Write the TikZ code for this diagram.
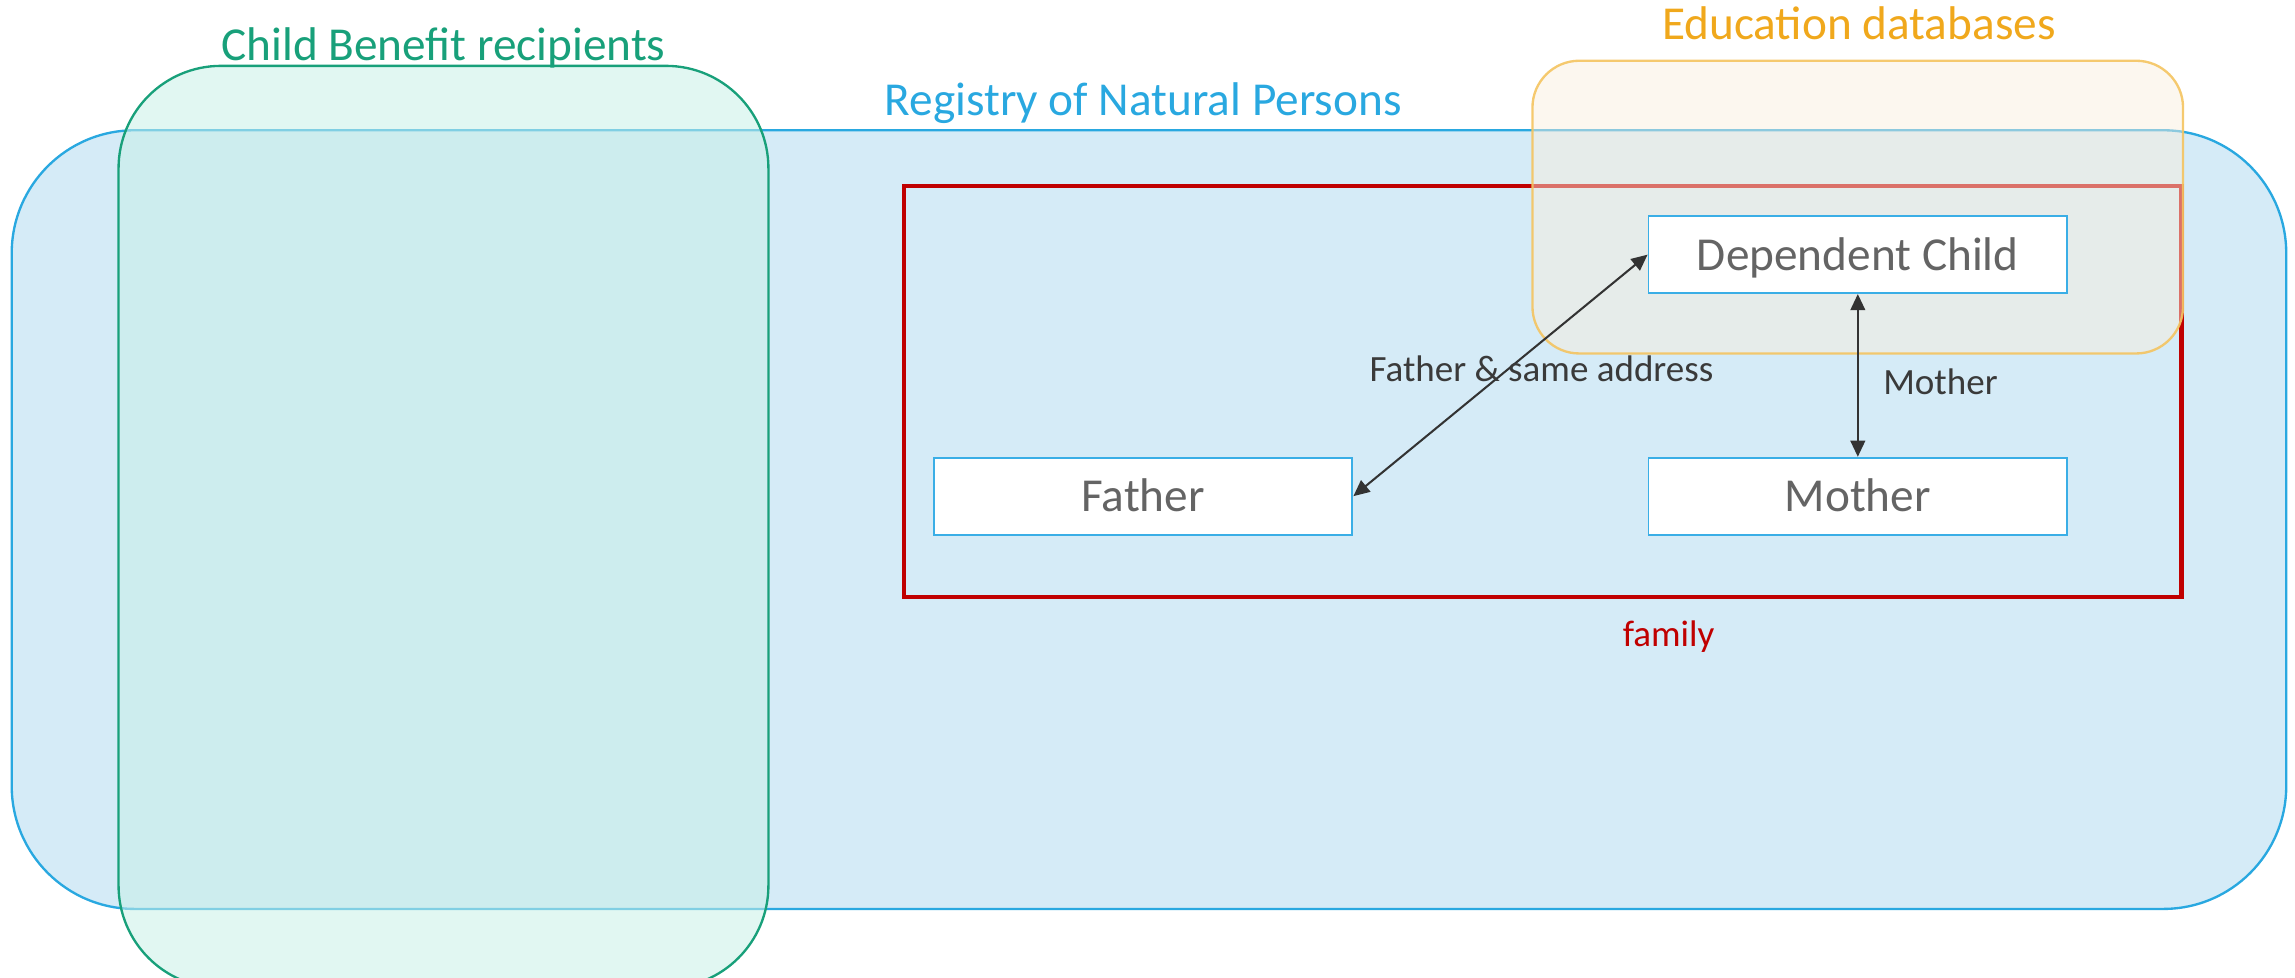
\documentclass[tikz,border=0pt]{standalone}
\usepackage{fontspec}
\setmainfont{Carlito}
\usetikzlibrary{arrows.meta}
\definecolor{regfill}{RGB}{213,235,247}
\definecolor{regline}{RGB}{41,168,224}
\definecolor{cbfill}{RGB}{200,240,231}
\definecolor{cbline}{RGB}{24,160,122}
\definecolor{edfill}{RGB}{249,238,221}
\definecolor{edline}{RGB}{244,196,96}
\definecolor{edtext}{RGB}{240,168,28}
\definecolor{famred}{RGB}{192,0,0}
\definecolor{boxline}{RGB}{58,174,230}
\definecolor{boxtext}{RGB}{100,100,100}
\definecolor{arrowc}{RGB}{51,51,51}
\definecolor{lbltext}{RGB}{58,58,58}
\begin{document}
\begin{tikzpicture}[x=1pt,y=-1pt,
  big/.style={font=\fontsize{32.3}{38}\selectfont},
  small/.style={font=\fontsize{25.3}{30}\selectfont},
  person/.style={draw=boxline, line width=1.3pt, fill=white, minimum width=286pt, minimum height=52.5pt, inner sep=0pt, big, text=boxtext, text height=21pt, text depth=0pt},
  link/.style={draw=arrowc, line width=1.4pt, {Triangle[length=11pt,width=10pt]}-{Triangle[length=11pt,width=10pt]}},
  setline/.style={line width=1.6pt}
]
\useasboundingbox (0,0) rectangle (1568,668);
\clip (0,0) rectangle (1568,668);

% Registry of Natural Persons
\draw[setline, draw=regline, fill=regfill, rounded corners=84pt] (8,89) rectangle (1562,621);
\node[big, text=regline, anchor=base, inner sep=0pt] (reglabel) at (781,78.6) {Registry of Natural Persons};

% family
\draw[line width=3pt, draw=famred] (617.5,127) rectangle (1490.5,408);
\node[small, text=famred, anchor=base, inner sep=0pt] (famlabel) at (1140,442) {family};

% Child Benefit recipients
\draw[setline, draw=cbline, fill=cbfill, fill opacity=0.55, rounded corners=70pt] (81,45) rectangle (525,675);
\node[big, text=cbline, anchor=base, inner sep=0pt] (cblabel) at (303,41.5) {Child Benefit recipients};

% Education databases
\draw[setline, draw=edline, draw opacity=0.9, fill=edfill, fill opacity=0.48, rounded corners=32pt] (1047,41.5) rectangle (1491.5,241.5);
\node[big, text=edtext, anchor=base, inner sep=0pt] (edlabel) at (1270,27.3) {Education databases};

% persons
\node[person] (child) at (1269.3,174) {Dependent Child};
\node[person] (father) at (781,339) {Father};
\node[person] (mother) at (1269.3,339) {Mother};

% links
\draw[link] (father.east) -- node[small, text=lbltext, anchor=base, inner sep=0pt, xshift=28pt, yshift=-4pt] (fsa) {Father \& same address} (child.west);
\draw[link] (child.south) -- node[small, text=lbltext, anchor=base west, inner sep=0pt, xshift=16.7pt, yshift=-13pt] (mlbl) {Mother} (mother.north);
\end{tikzpicture}
\end{document}
